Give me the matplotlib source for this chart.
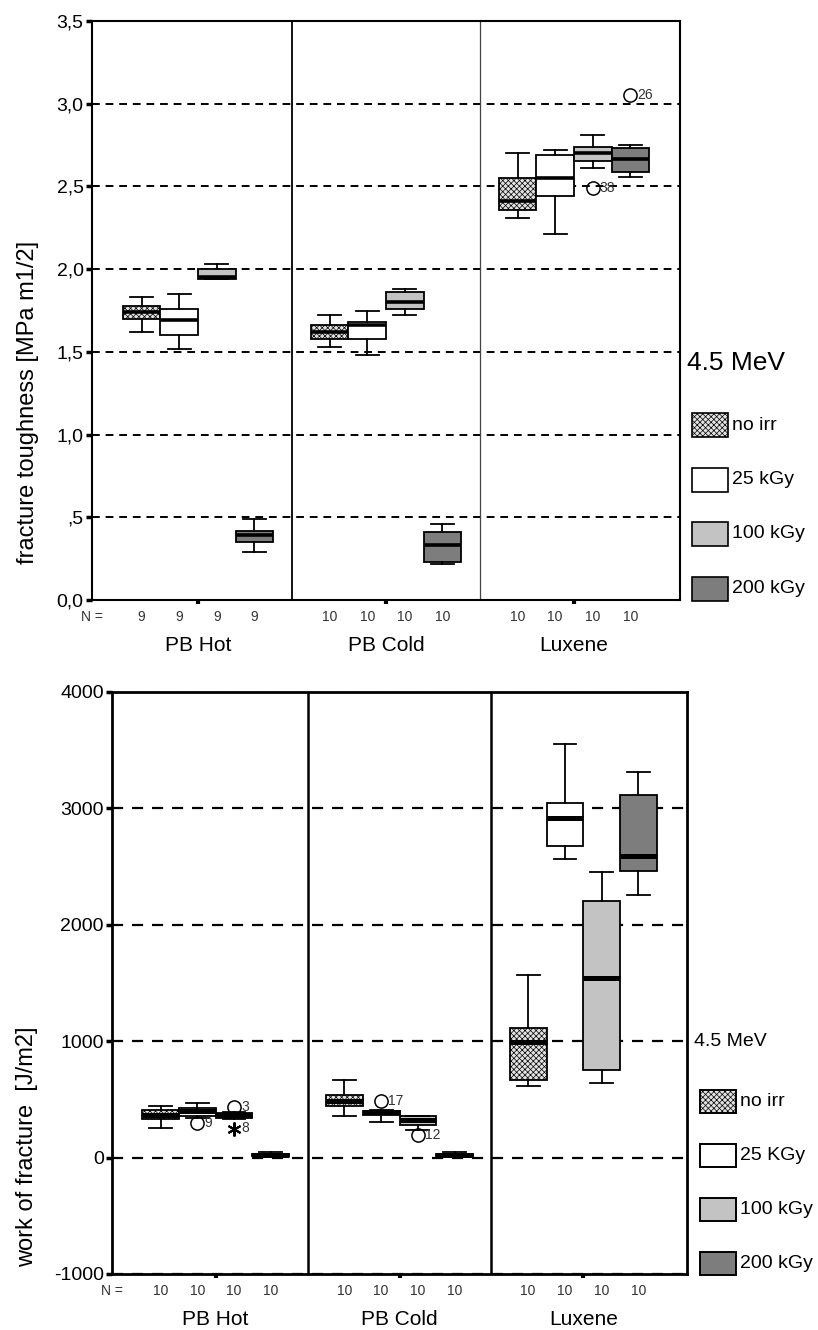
import matplotlib
matplotlib.use("Agg")
import matplotlib.pyplot as plt
from matplotlib.patches import Rectangle

plt.rcParams['font.family'] = ['Liberation Sans', 'DejaVu Sans']
plt.rcParams['hatch.linewidth'] = 0.5

# ---------------------------------------------------------------
# data
# ---------------------------------------------------------------
groups = ["PB Hot", "PB Cold", "Luxene"]
doses_top = ["no irr", "25 kGy", "100 kGy", "200 kGy"]
doses_bottom = ["no irr", "25 KGy", "100 kGy", "200 kGy"]

# fracture toughness, one row per group, one entry per dose
# each entry: (whisker low, q1, median, q3, whisker high)
tough_pb_hot = [(1.62, 1.70, 1.74, 1.78, 1.83),
                (1.52, 1.60, 1.69, 1.76, 1.85),
                (1.94, 1.94, 1.95, 2.00, 2.03),
                (0.29, 0.35, 0.39, 0.42, 0.49)]
tough_pb_cold = [(1.53, 1.575, 1.62, 1.665, 1.72),
                 (1.48, 1.575, 1.665, 1.68, 1.75),
                 (1.72, 1.76, 1.80, 1.86, 1.88),
                 (0.22, 0.23, 0.33, 0.41, 0.46)]
tough_luxene = [(2.31, 2.36, 2.41, 2.55, 2.70),
                (2.21, 2.44, 2.55, 2.69, 2.72),
                (2.61, 2.655, 2.705, 2.74, 2.81),
                (2.56, 2.59, 2.665, 2.73, 2.75)]
tough_n = [[9, 9, 9, 9], [10, 10, 10, 10], [10, 10, 10, 10]]
# outliers: (group index, dose index, value, case label)
tough_outliers = [(2, 2, 2.49, "38"), (2, 3, 3.05, "26")]

# work of fracture
work_pb_hot = [(252, 333, 370, 413, 441),
               (340, 356, 399, 427, 465),
               (330, 344, 365, 387, 395),
               (10, 15, 25, 35, 45)]
work_pb_cold = [(361, 447, 485, 542, 665),
                (304, 370, 390, 399, 410),
                (241, 284, 327, 356, 360),
                (10, 15, 25, 35, 45)]
work_luxene = [(617, 670, 996, 1110, 1572),
               (2568, 2678, 2917, 3049, 3549),
               (644, 754, 1542, 2201, 2455),
               (2254, 2458, 2595, 3114, 3314)]
work_n = [[10, 10, 10, 10], [10, 10, 10, 10], [10, 10, 10, 10]]
work_outliers = [(0, 1, 293, "9"), (0, 2, 439, "3"),
                 (1, 1, 485, "17"), (1, 2, 198, "12")]
work_extremes = [(0, 2, 250, "8")]

tough_ticks = [0.0, 0.5, 1.0, 1.5, 2.0, 2.5, 3.0, 3.5]
tough_ticklabels = ["0,0", ",5", "1,0", "1,5", "2,0", "2,5", "3,0", "3,5"]
work_ticks = [-1000, 0, 1000, 2000, 3000, 4000]
work_ticklabels = ["-1000", "0", "1000", "2000", "3000", "4000"]

dose_colors = ["#e2e2e2", "white", "#c3c3c3", "#7d7d7d"]
dose_hatches = ["xxxxxx", None, None, None]
offsets = [-0.3, -0.1, 0.1, 0.3]
box_w = 0.2

W, H = 818, 1330


def px(x, y):
    # pixel position (from top-left) -> figure fraction
    return x / W, 1 - y / H


def draw_panel(ax, table, outliers, extremes, counts, lw_frame, med_lw, dash):
    for d in range(4):
        stats = []
        pos = []
        for g, rows in enumerate(table):
            lo, q1, med, q3, hi = rows[d]
            fl = [v for (gi, di, v, lab) in outliers if gi == g and di == d]
            stats.append(dict(whislo=lo, q1=q1, med=med, q3=q3, whishi=hi, fliers=fl))
            pos.append(g + 1 + offsets[d])
        art = ax.bxp(stats, positions=pos, widths=box_w, capwidths=box_w * 0.62,
                     patch_artist=True, manage_ticks=False,
                     boxprops=dict(edgecolor="black", linewidth=1.3),
                     whiskerprops=dict(color="black", linewidth=1.3),
                     capprops=dict(color="black", linewidth=1.3),
                     medianprops=dict(color="black", linewidth=med_lw, solid_capstyle="butt"),
                     flierprops=dict(marker="o", markersize=9.5, markerfacecolor="none",
                                     markeredgecolor="black", markeredgewidth=1.1),
                     zorder=3)
        for b in art["boxes"]:
            b.set_facecolor(dose_colors[d])
            if dose_hatches[d]:
                b.set_hatch(dose_hatches[d])

    for gi, di, v, lab in outliers:
        ax.annotate(lab, (gi + 1 + offsets[di], v), xytext=(5, 0), textcoords="offset points",
                    fontsize=10, va="center", ha="left", color="#333333", zorder=5)
    for gi, di, v, lab in extremes:
        ax.plot(gi + 1 + offsets[di], v, marker=(6, 2, 0), markersize=10, color="black",
                markeredgewidth=1.5, zorder=5)
        ax.annotate(lab, (gi + 1 + offsets[di], v), xytext=(5, 0), textcoords="offset points",
                    fontsize=10, va="center", ha="left", color="#333333", zorder=5)

    ax.set_xlim(0.436, 3.564)
    ax.set_xticks([1, 2, 3])
    ax.set_xticklabels([])
    ax.tick_params(axis="x", length=3, width=3, direction="out")
    ax.tick_params(axis="y", length=4, width=2.5, direction="out", labelsize=14, pad=2)
    for s in ax.spines.values():
        s.set_linewidth(lw_frame)
    ax.yaxis.grid(True, linestyle=dash, color="black", linewidth=1.4)
    ax.set_axisbelow(True)

    # N row and group names under the axis
    trans = ax.get_xaxis_transform()
    ax.text(ax.get_xlim()[0], -0.029, "N =", transform=trans, ha="center", va="center",
            fontsize=10, color="#333333")
    for g in range(3):
        for d in range(4):
            ax.text(g + 1 + offsets[d], -0.029, str(counts[g][d]), transform=trans,
                    ha="center", va="center", fontsize=10, color="#333333")
        ax.text(g + 1, -0.079, groups[g], transform=trans, ha="center", va="center",
                fontsize=15)


fig = plt.figure(figsize=(W / 100, H / 100), dpi=100)

# ---------------- top panel: fracture toughness ----------------
ax1 = fig.add_axes([92 / W, 1 - 600 / H, 588 / W, 579 / H])
draw_panel(ax1, [tough_pb_hot, tough_pb_cold, tough_luxene], tough_outliers, [],
           tough_n, 1.5, 2.6, (0, (4, 3)))
ax1.set_ylim(0, 3.5)
ax1.set_yticks(tough_ticks)
ax1.set_yticklabels(tough_ticklabels)
ax1.axvline(1.5, color="black", linewidth=1.3)
ax1.axvline(2.5, color="#444444", linewidth=0.9)
fig.text(*px(28, 402), "fracture toughness [MPa m1/2]", rotation=90, ha="center",
         va="center", fontsize=17)

fig.text(*px(687, 363), "4.5 MeV", fontsize=19, va="center", ha="left")
for i, lab in enumerate(doses_top):
    x0, y0 = px(692, 425 + i * 54.5 + 12)
    fig.add_artist(Rectangle((x0, y0), 36 / W, 24 / H, transform=fig.transFigure,
                             facecolor=dose_colors[i], hatch=dose_hatches[i],
                             edgecolor="black", linewidth=1.2))
    fig.text(*px(732, 425 + i * 54.5), lab, fontsize=14, va="center", ha="left")

# ---------------- bottom panel: work of fracture ----------------
ax2 = fig.add_axes([112 / W, 1 - 1274 / H, 575 / W, 582 / H])
draw_panel(ax2, [work_pb_hot, work_pb_cold, work_luxene], work_outliers, work_extremes,
           work_n, 2.0, 3.6, (0, (5, 4)))
ax2.set_ylim(-1000, 4000)
ax2.set_yticks(work_ticks)
ax2.set_yticklabels(work_ticklabels)
ax2.axvline(1.5, color="black", linewidth=1.8)
ax2.axvline(2.5, color="black", linewidth=1.8)
ax2.yaxis.grid(True, linestyle=(0, (5, 4)), color="black", linewidth=1.6)
fig.text(*px(27, 1147), "work of fracture  [J/m2]", rotation=90, ha="center",
         va="center", fontsize=17)

fig.text(*px(694, 1042), "4.5 MeV", fontsize=14, va="center", ha="left")
for i, lab in enumerate(doses_bottom):
    x0, y0 = px(700, 1101 + i * 54 + 11.5)
    fig.add_artist(Rectangle((x0, y0), 36 / W, 23 / H, transform=fig.transFigure,
                             facecolor=dose_colors[i], hatch=dose_hatches[i],
                             edgecolor="black", linewidth=1.4))
    fig.text(*px(740, 1101 + i * 54), lab, fontsize=14, va="center", ha="left")

fig.savefig("out.png", dpi=100)
